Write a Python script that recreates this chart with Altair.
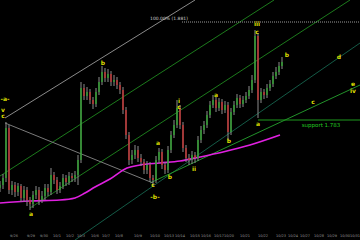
import altair as alt
import pandas as pd

# ---- candles (bar position in px-time units, prices) ----
bar_x = list(range(0, 285, 3))
close = [1.718, 1.725, 1.775, 1.713, 1.718, 1.711, 1.717, 1.705, 1.713, 1.703,
         1.699, 1.708, 1.713, 1.703, 1.707, 1.715, 1.711, 1.728, 1.723, 1.713,
         1.717, 1.725, 1.721, 1.727, 1.725, 1.728, 1.743, 1.815, 1.807, 1.811,
         1.803, 1.799, 1.811, 1.821, 1.831, 1.825, 1.829, 1.821, 1.823, 1.818,
         1.813, 1.793, 1.768, 1.743, 1.748, 1.753, 1.745, 1.741, 1.733, 1.738,
         1.725, 1.723, 1.743, 1.751, 1.738, 1.733, 1.753, 1.768, 1.778, 1.795,
         1.778, 1.755, 1.745, 1.743, 1.748, 1.745, 1.763, 1.773, 1.778, 1.788,
         1.798, 1.803, 1.795, 1.801, 1.793, 1.798, 1.771, 1.791, 1.798, 1.805,
         1.799, 1.803, 1.807, 1.813, 1.823, 1.867, 1.803, 1.811, 1.808, 1.815,
         1.819, 1.827, 1.831, 1.837, 1.841]
high = [1.722, 1.729, 1.781, 1.778, 1.722, 1.721, 1.720, 1.719, 1.717, 1.716,
        1.706, 1.712, 1.717, 1.716, 1.712, 1.719, 1.719, 1.735, 1.731, 1.726,
        1.721, 1.729, 1.728, 1.731, 1.730, 1.732, 1.748, 1.821, 1.819, 1.816,
        1.814, 1.806, 1.815, 1.826, 1.837, 1.835, 1.834, 1.832, 1.828, 1.826,
        1.821, 1.816, 1.796, 1.771, 1.753, 1.758, 1.757, 1.749, 1.744, 1.742,
        1.741, 1.728, 1.747, 1.755, 1.754, 1.741, 1.757, 1.772, 1.783, 1.803,
        1.798, 1.781, 1.758, 1.749, 1.752, 1.751, 1.767, 1.777, 1.782, 1.792,
        1.802, 1.808, 1.806, 1.805, 1.804, 1.802, 1.801, 1.795, 1.802, 1.809,
        1.808, 1.807, 1.811, 1.817, 1.828, 1.873, 1.870, 1.815, 1.814, 1.819,
        1.823, 1.831, 1.836, 1.841, 1.846]
low = [1.711, 1.714, 1.721, 1.709, 1.708, 1.706, 1.707, 1.701, 1.701, 1.697,
       1.693, 1.695, 1.704, 1.698, 1.700, 1.703, 1.707, 1.708, 1.719, 1.709,
       1.710, 1.714, 1.717, 1.718, 1.721, 1.721, 1.718, 1.740, 1.803, 1.803,
       1.799, 1.794, 1.796, 1.808, 1.818, 1.821, 1.821, 1.817, 1.817, 1.814,
       1.809, 1.789, 1.764, 1.738, 1.739, 1.744, 1.741, 1.737, 1.729, 1.729,
       1.721, 1.717, 1.720, 1.740, 1.734, 1.729, 1.730, 1.750, 1.765, 1.775,
       1.774, 1.751, 1.741, 1.738, 1.739, 1.740, 1.742, 1.760, 1.769, 1.775,
       1.785, 1.795, 1.791, 1.792, 1.789, 1.790, 1.763, 1.768, 1.788, 1.795,
       1.795, 1.796, 1.800, 1.804, 1.810, 1.820, 1.785, 1.800, 1.804, 1.805,
       1.812, 1.816, 1.824, 1.828, 1.834]
first_open = 1.715

# ---- moving average ----
ma_x = [0, 30, 60, 75, 85, 95, 110, 127, 140, 160, 180, 200, 223, 250, 280]
ma_p = [1.700, 1.702, 1.703, 1.705, 1.710, 1.716, 1.724, 1.735, 1.738, 1.740,
        1.742, 1.746, 1.751, 1.758, 1.768]

# ---- channel / trend lines ----
ln_x1 = [0, 30, 75, 150, 5, 5]
ln_p1 = [1.727, 1.695, 1.663, 1.720, 1.785, 1.780]
ln_x2 = [274, 350, 360, 360, 195, 153]
ln_p2 = [1.903, 1.903, 1.860, 1.818, 1.903, 1.720]
ln_col = ["#1c7a1c", "#1c7a1c", "#145a46", "#22922a", "#8a8a8a", "#7a7a7a"]

# ---- horizontal levels ----
fib_level = 1.881
fib_x = [182, 360]
support_level = 1.783
support_x = [258, 360]

# ---- wave labels ----
wave_txt = ["-a-", "v", "c", "b", "a", "a", "c", "-b-", "b", "i", "c", "a", "b",
            "ii", "a", "iii", "c", "b", "d", "c", "e", "iv"]
wave_x = [5, 3, 3, 103, 31, 158, 153, 155, 170, 179, 179, 216, 229,
          194, 258, 257, 257, 287, 339, 313, 353, 353]
wave_p = [1.804, 1.793, 1.787, 1.840, 1.689, 1.760, 1.718, 1.706, 1.726, 1.802,
          1.796, 1.808, 1.762, 1.734, 1.779, 1.879, 1.871, 1.848, 1.846, 1.801,
          1.819, 1.812]

# ---- time axis labels ----
tick_x = [14, 31, 44, 57, 70, 81, 95, 106, 119, 138, 155, 169, 180, 195, 206,
          219, 229, 245, 263, 281, 293, 305, 319, 332, 345, 355]
tick_lbl = ["9/26", "9/29", "9/30", "10/1", "10/2", "10/3", "10/6", "10/7",
            "10/8", "10/9", "10/10", "10/13", "10/14", "10/15", "10/16", "10/17",
            "10/20", "10/21", "10/22", "10/23", "10/24", "10/27", "10/28",
            "10/29", "10/30", "10/31"]

opens = [first_open] + close[:-1]
candles = pd.DataFrame({"x": bar_x, "o": opens, "c": close, "h": high, "l": low})
candles["col"] = ["#2fa52f" if c >= o else "#c83232" for o, c in zip(opens, close)]

xs = alt.Scale(domain=[0, 360], nice=False, zero=False)
ys = alt.Scale(domain=[1.663, 1.903], nice=False, zero=False)


def X(f):
    return alt.X(f, type="quantitative", scale=xs, axis=None)


def Y(f):
    return alt.Y(f, type="quantitative", scale=ys, axis=None)


lines_df = pd.DataFrame({"x1": ln_x1, "p1": ln_p1, "x2": ln_x2, "p2": ln_p2, "col": ln_col})
lines = alt.Chart(lines_df).mark_rule(strokeWidth=1, clip=True).encode(
    x=X("x1"), y=Y("p1"), x2="x2", y2="p2", color=alt.Color("col:N", scale=None))

fib = alt.Chart(pd.DataFrame({"x1": [fib_x[0]], "x2": [fib_x[1]], "p": [fib_level]})).mark_rule(
    color="#9a9a9a", strokeDash=[1, 1], strokeWidth=1).encode(x=X("x1"), x2="x2", y=Y("p"))
fib_txt = alt.Chart(pd.DataFrame({"x": [169], "p": [fib_level + 0.003],
                                  "t": ["100.00%% (%.3f)" % fib_level]})).mark_text(
    fontSize=4.5, color="#d0d0d0", font="DejaVu Sans").encode(x=X("x"), y=Y("p"), text="t:N")

sup = alt.Chart(pd.DataFrame({"x1": [support_x[0]], "x2": [support_x[1]], "p": [support_level]})).mark_rule(
    color="#1f9a1f", strokeWidth=1).encode(x=X("x1"), x2="x2", y=Y("p"))
sup_txt = alt.Chart(pd.DataFrame({"x": [321], "p": [support_level - 0.005],
                                  "t": ["support %.3f" % support_level]})).mark_text(
    fontSize=5.5, color="#22c822", font="DejaVu Sans").encode(x=X("x"), y=Y("p"), text="t:N")

ma = alt.Chart(pd.DataFrame({"x": ma_x, "p": ma_p})).mark_line(
    color="#e020e0", strokeWidth=1.6, interpolate="monotone").encode(x=X("x"), y=Y("p"))

wicks = alt.Chart(candles).mark_rule(color="#8c8c8c", strokeWidth=1).encode(
    x=X("x"), y=Y("l"), y2="h")
bodies = alt.Chart(candles).mark_rule(strokeWidth=1.4).encode(
    x=X("x"), y=Y("o"), y2="c", color=alt.Color("col:N", scale=None))

waves = alt.Chart(pd.DataFrame({"x": wave_x, "p": wave_p, "t": wave_txt})).mark_text(
    fontSize=6, fontWeight="bold", color="#dede00", font="DejaVu Sans").encode(
    x=X("x"), y=Y("p"), text="t:N")

ticks = alt.Chart(pd.DataFrame({"x": tick_x, "t": tick_lbl})).mark_text(
    fontSize=3.5, color="#9a9a9a", font="DejaVu Sans", baseline="middle").encode(
    x=X("x"), y=alt.value(236), text="t:N")

chart = alt.layer(lines, fib, sup, ma, wicks, bodies, waves, fib_txt, sup_txt, ticks).properties(
    width=360, height=240, background="#000000", padding=0,
    autosize=alt.AutoSizeParams(type="none")
).configure_view(stroke=None, fill="#000000")

chart.save("out.html", embed_options={"renderer": "svg", "actions": False})
